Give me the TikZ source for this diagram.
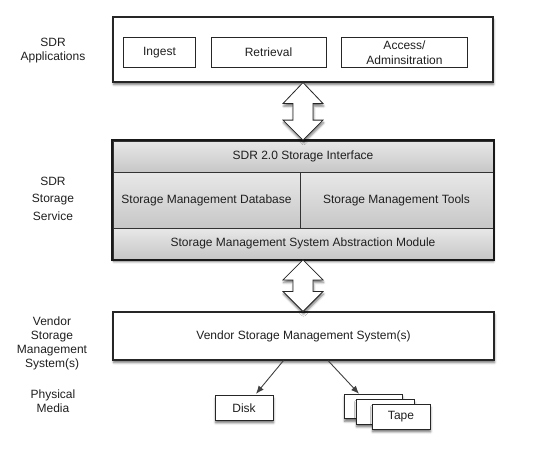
\documentclass[tikz,border=0pt]{standalone}
\usepackage{fontspec}
\setmainfont{Liberation Sans}
\usetikzlibrary{calc,arrows.meta,shadows.blur}
\begin{document}
\begin{tikzpicture}[x=1pt,y=-1pt,
  every node/.style={font=\fontsize{12}{14}\selectfont, text=black!88},
  shadowed/.style={blur shadow={shadow xshift=0.6pt, shadow yshift=-2.6pt, shadow blur radius=2.2pt, shadow opacity=55}},
  bigbox/.style={draw=black!85, line width=1.1pt, fill=white, shadowed, inner sep=0pt},
  smallbox/.style={draw=black!85, line width=0.9pt, fill=white, inner sep=0pt, minimum height=30pt},
  cell/.style={draw=black!80, line width=0.8pt, top color=black!9, bottom color=black!22, inner sep=0pt},
  mediabox/.style={draw=black!85, line width=0.9pt, fill=white, inner sep=0pt, minimum width=58pt, minimum height=24.5pt, shadowed},
  barrow/.style={draw=black!85, line width=0.8pt, fill=white, line join=miter, shadowed},
  conn/.style={draw=black!75, line width=0.9pt, -{Latex[length=8pt,width=6.5pt]}},
  sidelabel/.style={align=center, inner sep=0pt}
]
\useasboundingbox (0,0) rectangle (541,463);

% left labels
\node[sidelabel] (lab1) at (53,51) {SDR\\Applications};
\node[sidelabel, font=\fontsize{12}{17.5}\selectfont] (lab2) at (53,198.5) {SDR\\Storage\\Service};
\node[sidelabel] (lab3) at (52,343) {Vendor\\Storage\\Management\\System(s)};
\node[sidelabel] (lab4) at (53,401.5) {Physical\\Media};

% applications box
\node[bigbox, minimum width=380pt, minimum height=65pt] (apps) at (303,49.5) {};
\node[smallbox, minimum width=72pt] (ingest) at (159.5,52.5) {Ingest};
\node[smallbox, minimum width=115pt] (retr) at (268.5,52.5) {Retrieval};
\node[smallbox, minimum width=126pt, align=center, font=\fontsize{12}{15}\selectfont] (access) at (404.5,52.5) {Access/\\Adminsitration};

% storage service box
\node[bigbox, line width=1.8pt, minimum width=380pt, minimum height=118pt] (storage) at (303,200) {};
\node[cell, minimum width=380pt, minimum height=31pt] (iface) at (303,156.5) {SDR 2.0 Storage Interface};
\node[cell, minimum width=187pt, minimum height=56pt] (db) at (206.5,200) {Storage Management Database};
\node[cell, minimum width=193pt, minimum height=56pt] (tools) at (396.5,200) {Storage Management Tools};
\node[cell, minimum width=380pt, minimum height=31pt] (abs) at (303,243.5) {Storage Management System Abstraction Module};
\draw[black!90, line width=1.8pt] (storage.north west) rectangle (storage.south east);

% vendor box
\node[bigbox, minimum width=381pt, minimum height=48pt] (vendor) at (303.5,336) {Vendor Storage Management System(s)};

% block arrows
\coordinate (a1t) at (apps.south -| 303,0);
\coordinate (a1b) at (storage.north -| 303,0);
\draw[barrow] (a1t) -- ++(20,21) -- ++(-10,0) -- ($(a1b)+(10,-20)$) -- ++(10,0)
  -- (a1b) -- ++(-20,-20) -- ++(10,0) -- ($(a1t)+(-10,21)$) -- ++(-10,0) -- cycle;
\coordinate (a2t) at (storage.south -| 303,0);
\coordinate (a2b) at (vendor.north -| 303,0);
\draw[barrow] (a2t) -- ++(20,20) -- ++(-10,0) -- ($(a2b)+(10,-20)$) -- ++(10,0)
  -- (a2b) -- ++(-20,-20) -- ++(10,0) -- ($(a2t)+(-10,20)$) -- ++(-10,0) -- cycle;

% media
\node[mediabox] (disk) at (244,408) {Disk};
\node[mediabox] (tape1) at (373,406.5) {};
\node[mediabox] (tape2) at (385,412) {};
\node[mediabox] (tape3) at (401,417) {Tape};

% connectors
\draw[conn] ($(vendor.south)+(-20,0)$) -- ($(disk.north)+(12,-1.5)$);
\draw[conn] ($(vendor.south)+(24.5,0)$) -- ($(tape1.north)+(-14,0)$);
\end{tikzpicture}
\end{document}
